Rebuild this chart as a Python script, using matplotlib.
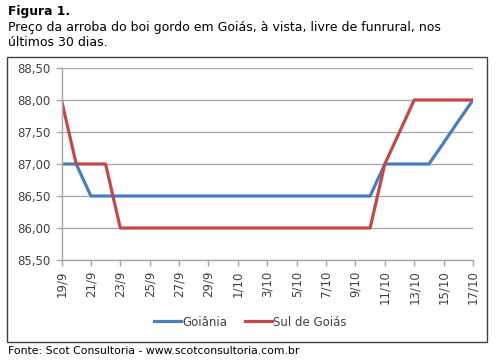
import matplotlib
matplotlib.use('Agg')
import matplotlib.pyplot as plt
from matplotlib.patches import Rectangle

# datas diárias de 19/9 a 17/10
dias = ['19/9', '20/9', '21/9', '22/9', '23/9', '24/9', '25/9', '26/9', '27/9', '28/9',
        '29/9', '30/9', '1/10', '2/10', '3/10', '4/10', '5/10', '6/10', '7/10', '8/10',
        '9/10', '10/10', '11/10', '12/10', '13/10', '14/10', '15/10', '16/10', '17/10']
goiania = [87.00, 87.00, 86.50, 86.50, 86.50, 86.50, 86.50, 86.50, 86.50, 86.50,
           86.50, 86.50, 86.50, 86.50, 86.50, 86.50, 86.50, 86.50, 86.50, 86.50,
           86.50, 86.50, 87.00, 87.00, 87.00, 87.00, 87.33, 87.67, 88.00]
sul_goias = [88.00, 87.00, 87.00, 87.00, 86.00, 86.00, 86.00, 86.00, 86.00, 86.00,
             86.00, 86.00, 86.00, 86.00, 86.00, 86.00, 86.00, 86.00, 86.00, 86.00,
             86.00, 86.00, 87.00, 87.50, 88.00, 88.00, 88.00, 88.00, 88.00]
y_ticks = [85.5, 86.0, 86.5, 87.0, 87.5, 88.0, 88.5]

W, H = 496, 360
fig = plt.figure(figsize=(W / 100, H / 100), dpi=100)

# titulo
fig.text(8 / W, 1 - 11 / H, 'Figura 1.', fontsize=8.8, fontweight='bold', va='center', ha='left')
fig.text(8 / W, 1 - 27 / H, 'Preço da arroba do boi gordo em Goiás, à vista, livre de funrural, nos',
         fontsize=9.0, va='center', ha='left')
fig.text(8 / W, 1 - 43 / H, 'últimos 30 dias.', fontsize=9.0, va='center', ha='left')
fig.text(8 / W, 1 - 351 / H, 'Fonte: Scot Consultoria - www.scotconsultoria.com.br',
         fontsize=7.8, va='center', ha='left')

# moldura do grafico
fig.patches.append(Rectangle((7 / W, 1 - 342 / H), 480 / W, 285 / H, transform=fig.transFigure,
                             fill=False, edgecolor='#404040', linewidth=1.0))

ax = fig.add_axes([61.5 / W, 1 - 260 / H, (473 - 61.5) / W, (260 - 68) / H])
x = list(range(len(dias)))
ax.plot(x, goiania, color='#4A7EBB', linewidth=2.3, label='Goiânia')
ax.plot(x, sul_goias, color='#BE4B48', linewidth=2.3, label='Sul de Goiás')

ax.set_ylim(85.5, 88.5)
ax.set_xlim(0, len(dias) - 1)
ax.set_yticks(y_ticks)
ax.set_yticklabels([('%.2f' % v).replace('.', ',') for v in y_ticks], color='#404040', fontsize=8.5)
ax.set_xticks(x[::2])
ax.set_xticklabels(dias[::2], rotation=90, color='#404040', fontsize=8.5)
ax.grid(axis='y', color='#A6A6A6', linewidth=0.9)
ax.set_axisbelow(True)
for s in ['top', 'right']:
    ax.spines[s].set_visible(False)
for s in ['left', 'bottom']:
    ax.spines[s].set_color('#A6A6A6')
    ax.spines[s].set_linewidth(1.0)
ax.tick_params(axis='both', colors='#A6A6A6', length=4, width=1.0, labelcolor='#404040')
ax.tick_params(axis='y', pad=4)

leg = fig.legend(loc='center', bbox_to_anchor=(250 / W, 1 - 322 / H), ncol=2, frameon=False,
                 fontsize=8.5, handlelength=2.3, handletextpad=0.1, columnspacing=1.5)
for t in leg.get_texts():
    t.set_color('#404040')

fig.savefig('out.png', dpi=100)
